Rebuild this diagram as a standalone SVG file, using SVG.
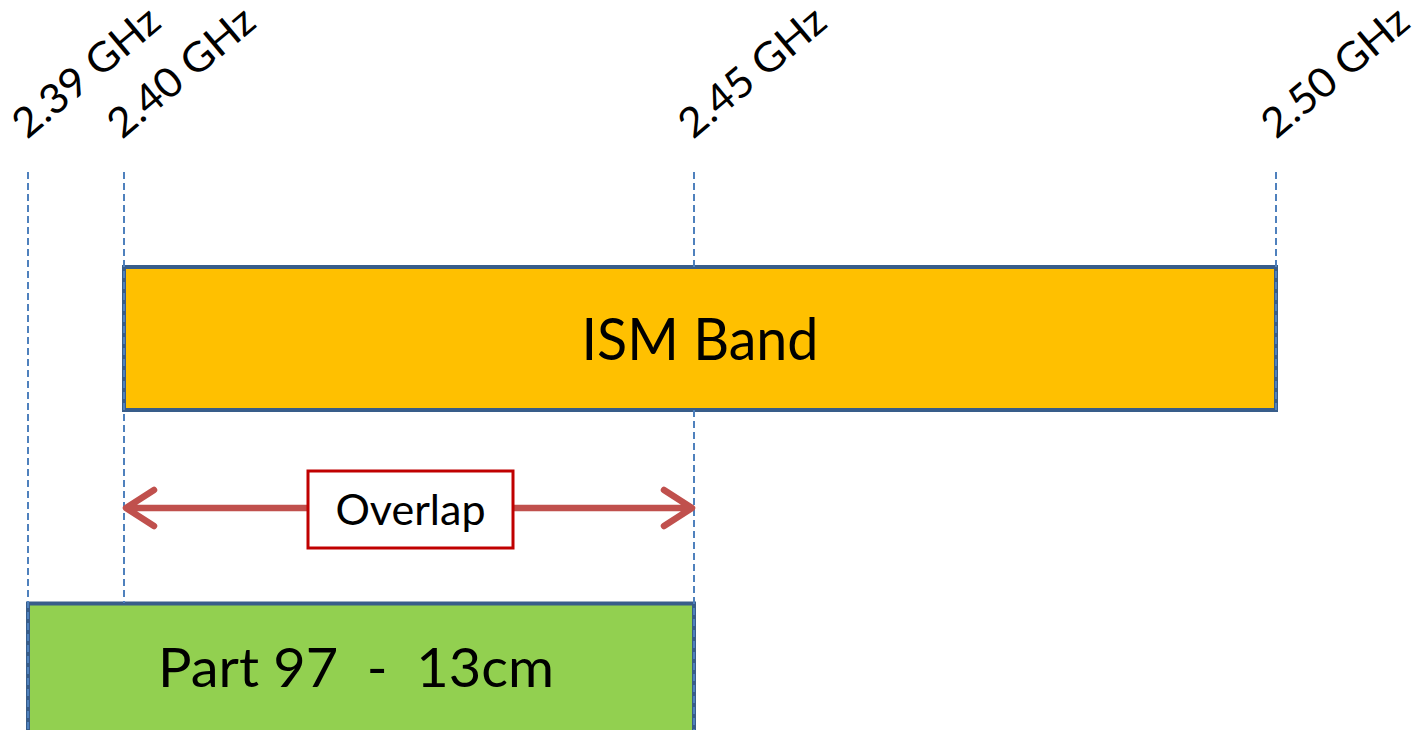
<svg xmlns="http://www.w3.org/2000/svg" width="1419" height="730" viewBox="0 0 1419 730">
<defs>
<style>
text{font-family:Lato,"Open Sans","Liberation Sans",sans-serif;fill:#000}
.freq{font-size:41px}
.band{stroke:#385D8A;stroke-width:4}
.guide{stroke:#4F81BD;stroke-width:2;stroke-dasharray:7 4;fill:none}
.arrow{stroke:#C0504D;stroke-width:6.5;stroke-linecap:round;stroke-linejoin:round;fill:none}
</style>
</defs>
<rect width="1419" height="730" fill="#fff"/>
<g id="label-239"><text class="freq" transform="translate(27,140) rotate(-40)" textLength="178" lengthAdjust="spacingAndGlyphs">2.39 GHz</text></g>
<g id="label-240"><text class="freq" transform="translate(122,140) rotate(-40)" textLength="178" lengthAdjust="spacingAndGlyphs">2.40 GHz</text></g>
<g id="label-245"><text class="freq" transform="translate(693,140) rotate(-40)" textLength="178" lengthAdjust="spacingAndGlyphs">2.45 GHz</text></g>
<g id="label-250"><text class="freq" transform="translate(1276,140) rotate(-40)" textLength="178" lengthAdjust="spacingAndGlyphs">2.50 GHz</text></g>
<g id="ism-band">
<rect class="band" x="124" y="267" width="1152" height="143" fill="#FFC000"/>
<text x="700" y="360" font-size="58" text-anchor="middle" textLength="237" lengthAdjust="spacingAndGlyphs">ISM Band</text>
</g>
<g id="part97">
<rect class="band" x="28" y="603.5" width="666" height="135" fill="#92D050"/>
<text x="356" y="687" font-size="55" text-anchor="middle" textLength="396" lengthAdjust="spacingAndGlyphs" xml:space="preserve">Part 97  -  13cm</text>
</g>
<g id="connectors">
<line class="guide" x1="28" y1="172" x2="28" y2="730"/>
<line class="guide" x1="124" y1="172" x2="124" y2="603"/>
<line class="guide" x1="694" y1="172" x2="694" y2="267"/>
<line class="guide" x1="694" y1="410" x2="694" y2="730"/>
<line class="guide" x1="1276" y1="172" x2="1276" y2="410"/>
<path class="arrow" d="M127,508 H691 M154,490 L126,508 L154,526 M664,490 L692,508 L664,526"/>
</g>
<g id="overlap">
<rect x="308" y="471" width="205" height="77" fill="#fff" stroke="#C00000" stroke-width="3"/>
<text x="410.5" y="525" font-size="43" text-anchor="middle" textLength="150" lengthAdjust="spacingAndGlyphs">Overlap</text>
</g>
</svg>
